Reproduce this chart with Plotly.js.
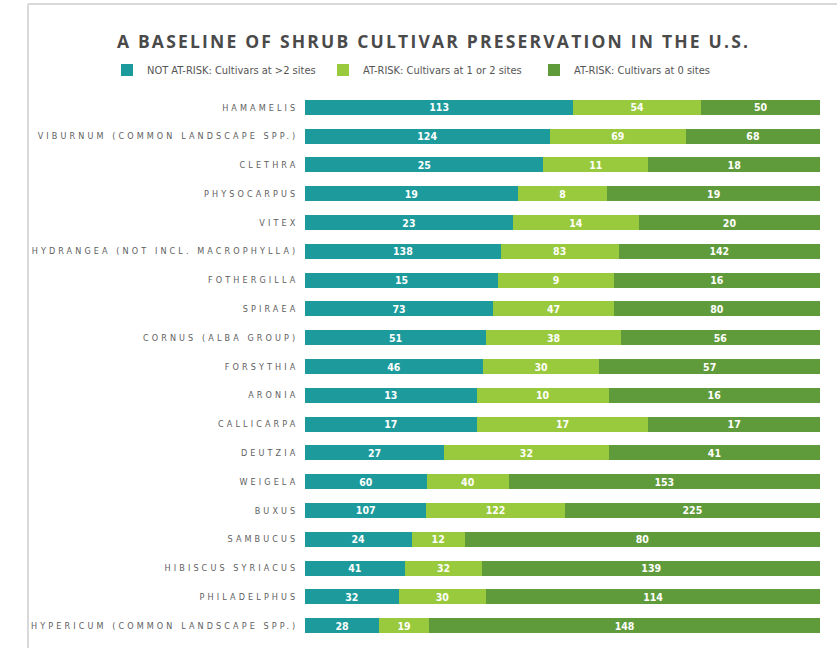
<!DOCTYPE html>
<html>
<head>
<meta charset="utf-8">
<script src="https://cdn.plot.ly/plotly-3.0.1.min.js"></script>
<style>
  html, body { margin: 0; padding: 0; background: #fff; }
  #chart { width: 837px; height: 648px; }
  #chart .ytick text { letter-spacing: 3.1px; }
  #chart .gtitle { letter-spacing: 2.2px; }
</style>
</head>
<body>
<div id="chart"></div>
<script>
const categories = [
  "HAMAMELIS",
  "VIBURNUM (COMMON LANDSCAPE SPP.)",
  "CLETHRA",
  "PHYSOCARPUS",
  "VITEX",
  "HYDRANGEA (NOT INCL. MACROPHYLLA)",
  "FOTHERGILLA",
  "SPIRAEA",
  "CORNUS (ALBA GROUP)",
  "FORSYTHIA",
  "ARONIA",
  "CALLICARPA",
  "DEUTZIA",
  "WEIGELA",
  "BUXUS",
  "SAMBUCUS",
  "HIBISCUS SYRIACUS",
  "PHILADELPHUS",
  "HYPERICUM (COMMON LANDSCAPE SPP.)"
];
const notAtRisk   = [113, 124, 25, 19, 23, 138, 15, 73, 51, 46, 13, 17, 27, 60, 107, 24, 41, 32, 28];
const atRisk12    = [54, 69, 11, 8, 14, 83, 9, 47, 38, 30, 10, 17, 32, 40, 122, 12, 32, 30, 19];
const atRisk0     = [50, 68, 18, 19, 20, 142, 16, 80, 56, 57, 16, 17, 41, 153, 225, 80, 139, 114, 148];
const seriesNames = [
  "NOT AT-RISK: Cultivars at >2 sites",
  "AT-RISK: Cultivars at 1 or 2 sites",
  "AT-RISK: Cultivars at 0 sites"
];
const colors = ["#1d9a9b", "#99c93c", "#5f9b3b"];

const W = 837, H = 648;
const legendIds = ["legend", "legend2", "legend3"];
const legendLeftPx = [107, 323, 534];

const seriesValues = [notAtRisk, atRisk12, atRisk0];
const traces = seriesValues.map((vals, i) => ({
  type: "bar",
  orientation: "h",
  name: seriesNames[i],
  legend: legendIds[i],
  y: categories,
  x: vals,
  text: vals.map(String),
  textposition: "inside",
  insidetextanchor: "middle",
  constraintext: "none",
  textangle: 0,
  textfont: { family: "DejaVu Sans Condensed", size: 10.5, color: "#ffffff", weight: "bold" },
  marker: { color: colors[i], line: { width: 0 } },
  width: 0.52,
  hoverinfo: "name+x+y"
}));

const M = { l: 305, r: 17, t: 93, b: 8 };
const pw = W - M.l - M.r, ph = H - M.t - M.b;
const px = v => (v - M.l) / pw;
const py = v => 1 - (v - M.t) / ph;

const legendStyle = i => ({
  orientation: "h",
  x: legendLeftPx[i] / W, xref: "container", xanchor: "left",
  y: 1 - 70 / H, yref: "container", yanchor: "middle",
  font: { family: "DejaVu Sans Condensed", size: 11, color: "#555555" },
  itemwidth: 30,
  bgcolor: "rgba(0,0,0,0)"
});

const layout = {
  width: W, height: H,
  margin: M,
  paper_bgcolor: "#ffffff",
  plot_bgcolor: "#ffffff",
  barmode: "stack",
  barnorm: "percent",
  bargap: 0.48,
  title: {
    text: "<b>A BASELINE OF SHRUB CULTIVAR PRESERVATION IN THE U.S.</b>",
    font: { family: "Open Sans", size: 17.5, color: "#4a4a4a" },
    x: 0.518, xref: "container", xanchor: "center",
    y: 1 - 42 / H, yref: "container", yanchor: "middle"
  },
  legend: legendStyle(0),
  legend2: legendStyle(1),
  legend3: legendStyle(2),
  xaxis: {
    range: [0, 100],
    showgrid: false, zeroline: false, showticklabels: false, ticks: "",
    fixedrange: true
  },
  yaxis: {
    type: "category",
    autorange: "reversed",
    showgrid: false, zeroline: false, ticks: "",
    ticksuffix: " ",
    tickfont: { family: "DejaVu Sans Condensed", size: 9, color: "#606060" },
    fixedrange: true
  },
  shapes: [
    { type: "line", xref: "paper", yref: "paper", x0: px(28), x1: px(837), y0: py(4), y1: py(4),
      line: { color: "#d9d9d9", width: 2 } },
    { type: "line", xref: "paper", yref: "paper", x0: px(28), x1: px(28), y0: py(4), y1: py(648),
      line: { color: "#d9d9d9", width: 2 } }
  ],
  showlegend: true
};

Plotly.newPlot("chart", traces, layout, { displayModeBar: false, staticPlot: true });
</script>
</body>
</html>
